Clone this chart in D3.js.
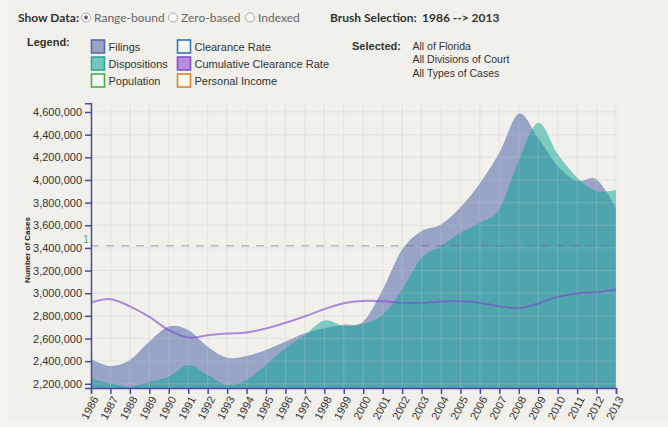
<!DOCTYPE html>
<html>
<head>
<meta charset="utf-8">
<script src="https://cdn.jsdelivr.net/npm/d3@7"></script>
<style>
  html, body { margin: 0; padding: 0; background: #f5f4f0; }
  svg { display: block; }
</style>
</head>
<body>
<svg id="chart" width="668" height="427"></svg>
<script>
// ---------------- data ----------------
const years = [1986, 1987, 1988, 1989, 1990, 1991, 1992, 1993, 1994, 1995, 1996, 1997, 1998, 1999,
               2000, 2001, 2002, 2003, 2004, 2005, 2006, 2007, 2008, 2009, 2010, 2011, 2012, 2013];
const filings = [2419000, 2357000, 2410000, 2573000, 2706000, 2676000, 2528000, 2431000, 2446000, 2499000,
                 2573000, 2647000, 2691000, 2721000, 2750000, 3031000, 3386000, 3548000, 3607000, 3758000,
                 3971000, 4240000, 4585000, 4370000, 4124000, 3992000, 4005000, 3755000];
const dispositions = [2248000, 2204000, 2174000, 2218000, 2262000, 2366000, 2277000, 2189000, 2233000, 2366000,
                      2516000, 2632000, 2759000, 2712000, 2729000, 2809000, 3031000, 3312000, 3415000, 3534000,
                      3625000, 3740000, 4172000, 4505000, 4228000, 4021000, 3902000, 3911000];
const cumClearance = [0.800, 0.812, 0.787, 0.750, 0.703, 0.677, 0.685, 0.691, 0.695, 0.709,
                      0.729, 0.752, 0.777, 0.798, 0.806, 0.805, 0.799, 0.799, 0.804, 0.805,
                      0.799, 0.787, 0.781, 0.797, 0.820, 0.832, 0.836, 0.846];
const rateDomain = [0.5, 1.5];
const refRate = 1;
const yTicks = [2200000, 2400000, 2600000, 2800000, 3000000, 3200000, 3400000, 3600000, 3800000,
                4000000, 4200000, 4400000, 4600000];
const showDataOptions = ["Range-bound", "Zero-based", "Indexed"];
const brushText = "1986 --> 2013";
const legendItems = [
  {name: "Filings", fill: "#98a4c6", stroke: "#5a68a6"},
  {name: "Dispositions", fill: "#72c8bd", stroke: "#33a898"},
  {name: "Population", fill: "none", stroke: "#4cae4c"},
  {name: "Clearance Rate", fill: "none", stroke: "#2a7bc0"},
  {name: "Cumulative Clearance Rate", fill: "#b48ddc", stroke: "#8b4fc6"},
  {name: "Personal Income", fill: "none", stroke: "#d7892a"}
];
const selectedLines = ["All of Florida", "All Divisions of Court", "All Types of Cases"];

// ---------------- layout ----------------
const svg = d3.select("#chart");
const W = 668, H = 427;
const m = {left: 91, top: 103.3, right: 52, bottom: 39};
const pw = W - m.left - m.right;   // 525
const ph = 388 - m.top;            // plot height

const axisColor = "#4a4aa6";
const textFont = "'Liberation Sans', Arial, sans-serif";
const headFont = "Lato, 'Open Sans', sans-serif";

// panel background
svg.append("rect").attr("x", 0).attr("y", 0).attr("width", W).attr("height", H).attr("fill", "#f5f4f0");
svg.append("rect").attr("x", 9).attr("y", 0).attr("width", W - 9).attr("height", 422).attr("fill", "#f1f0eb");

// ---------------- header ----------------
const head = svg.append("g").attr("font-family", headFont).attr("font-size", 12).attr("fill", "#333");
head.append("text").attr("x", 18).attr("y", 22).attr("font-weight", "bold").text("Show Data:");
const radioX = [86, 173, 250];
showDataOptions.forEach((opt, i) => {
  head.append("circle").attr("cx", radioX[i]).attr("cy", 17.5).attr("r", 4.5)
    .attr("fill", "#fafafa").attr("stroke", "#aaa").attr("stroke-width", 1);
  if (i === 0) head.append("circle").attr("cx", radioX[i]).attr("cy", 17.5).attr("r", 2)
    .attr("fill", "#666");
  head.append("text").attr("x", radioX[i] + 8).attr("y", 22).attr("fill", "#666").text(opt);
});
head.append("text").attr("x", 330).attr("y", 22).attr("font-weight", "bold").text("Brush Selection:");
head.append("text").attr("x", 422).attr("y", 22).attr("font-weight", "bold").text(brushText);

// ---------------- legend ----------------
const leg = svg.append("g").attr("font-family", textFont).attr("font-size", 11).attr("fill", "#333");
leg.append("text").attr("x", 27).attr("y", 46).attr("font-weight", "bold").text("Legend:");
legendItems.forEach((d, i) => {
  const col = Math.floor(i / 3), row = i % 3;
  const x = col === 0 ? 91.5 : 177.5;
  const y = 40 + row * 17;
  leg.append("rect").attr("x", x).attr("y", y).attr("width", 13).attr("height", 13)
    .attr("fill", d.fill === "none" ? "#f7f7f4" : d.fill)
    .attr("stroke", d.stroke).attr("stroke-width", 1.6);
  leg.append("text").attr("x", x + 17).attr("y", y + 10.5).text(d.name);
});
leg.append("text").attr("x", 352).attr("y", 50).attr("font-weight", "bold").text("Selected:");
selectedLines.forEach((t, i) => {
  leg.append("text").attr("x", 412.5).attr("y", 50 + i * 13.3).attr("font-size", 10.5).text(t);
});

// ---------------- scales ----------------
const x = d3.scaleLinear().domain(d3.extent(years)).range([0, pw]);
const allVals = filings.concat(dispositions);
const y = d3.scaleLinear().domain([d3.min(allVals) * 0.995, d3.max(allVals) * 1.02]).range([ph, 0]);
const yr = d3.scaleLinear().domain(rateDomain).range([ph, 0]);

const g = svg.append("g").attr("transform", `translate(${m.left},${m.top})`);

g.append("defs").append("clipPath").attr("id", "clip")
  .append("rect").attr("x", 0).attr("y", 0).attr("width", pw).attr("height", ph);

const plot = g.append("g").attr("clip-path", "url(#clip)");

const area = vals => d3.area()
  .x((d, i) => x(years[i]))
  .y0(ph)
  .y1(d => y(d))
  .curve(d3.curveCardinal)(vals);

plot.append("path").attr("d", area(filings)).attr("fill", "#98a4c6");
plot.append("path").attr("d", area(dispositions)).attr("fill", "rgb(6,165,148)").attr("fill-opacity", 0.5);

// grid (on top, subtle)
const grid = g.append("g").attr("stroke", "#c8c8c8").attr("stroke-opacity", 0.3).attr("stroke-width", 1);
years.forEach(yv => {
  grid.append("line").attr("x1", x(yv)).attr("x2", x(yv)).attr("y1", 0).attr("y2", ph);
});
yTicks.forEach(t => {
  grid.append("line").attr("x1", 0).attr("x2", pw).attr("y1", y(t)).attr("y2", y(t));
});

// reference line at clearance rate 1
g.append("line").attr("x1", 0).attr("x2", pw).attr("y1", yr(refRate)).attr("y2", yr(refRate))
  .attr("stroke", "rgb(110,90,160)").attr("stroke-opacity", 0.4)
  .attr("stroke-width", 1.5).attr("stroke-dasharray", "8,7");
g.append("text").attr("x", -5).attr("y", yr(refRate) - 3).attr("font-family", textFont)
  .attr("font-size", 10).attr("fill", "#4caf50").attr("text-anchor", "middle").text(refRate);

// cumulative clearance rate line
const line = d3.line().x((d, i) => x(years[i])).y(d => yr(d)).curve(d3.curveCardinal);
g.append("path").attr("d", line(cumClearance)).attr("fill", "none")
  .attr("stroke", "rgb(125,70,205)").attr("stroke-opacity", 0.6).attr("stroke-width", 2);

// ---------------- axes ----------------
const yAxis = g.append("g").call(d3.axisLeft(y).tickValues(yTicks).tickFormat(d3.format(",")).tickSize(6));
yAxis.selectAll("path, line").attr("stroke", axisColor).attr("stroke-width", 1.5);
yAxis.selectAll("text").attr("font-family", textFont).attr("font-size", 11).attr("fill", "#333");

const xAxis = g.append("g").attr("transform", `translate(0,${ph})`)
  .call(d3.axisBottom(x).tickValues(years).tickFormat(d3.format("d")).tickSize(6));
xAxis.selectAll("path, line").attr("stroke", axisColor).attr("stroke-width", 1.5);
xAxis.selectAll("text")
  .attr("font-family", textFont).attr("font-size", 11).attr("fill", "#333")
  .attr("text-anchor", "end")
  .attr("x", 0).attr("y", 0).attr("dy", "0.35em")
  .attr("transform", "translate(4,9) rotate(-62)");

svg.append("text").attr("transform", `translate(30,250) rotate(-90)`)
  .attr("text-anchor", "middle").attr("font-family", textFont).attr("font-size", 8)
  .attr("font-weight", "bold").attr("fill", "#222").text("Number of Cases");
</script>
</body>
</html>
